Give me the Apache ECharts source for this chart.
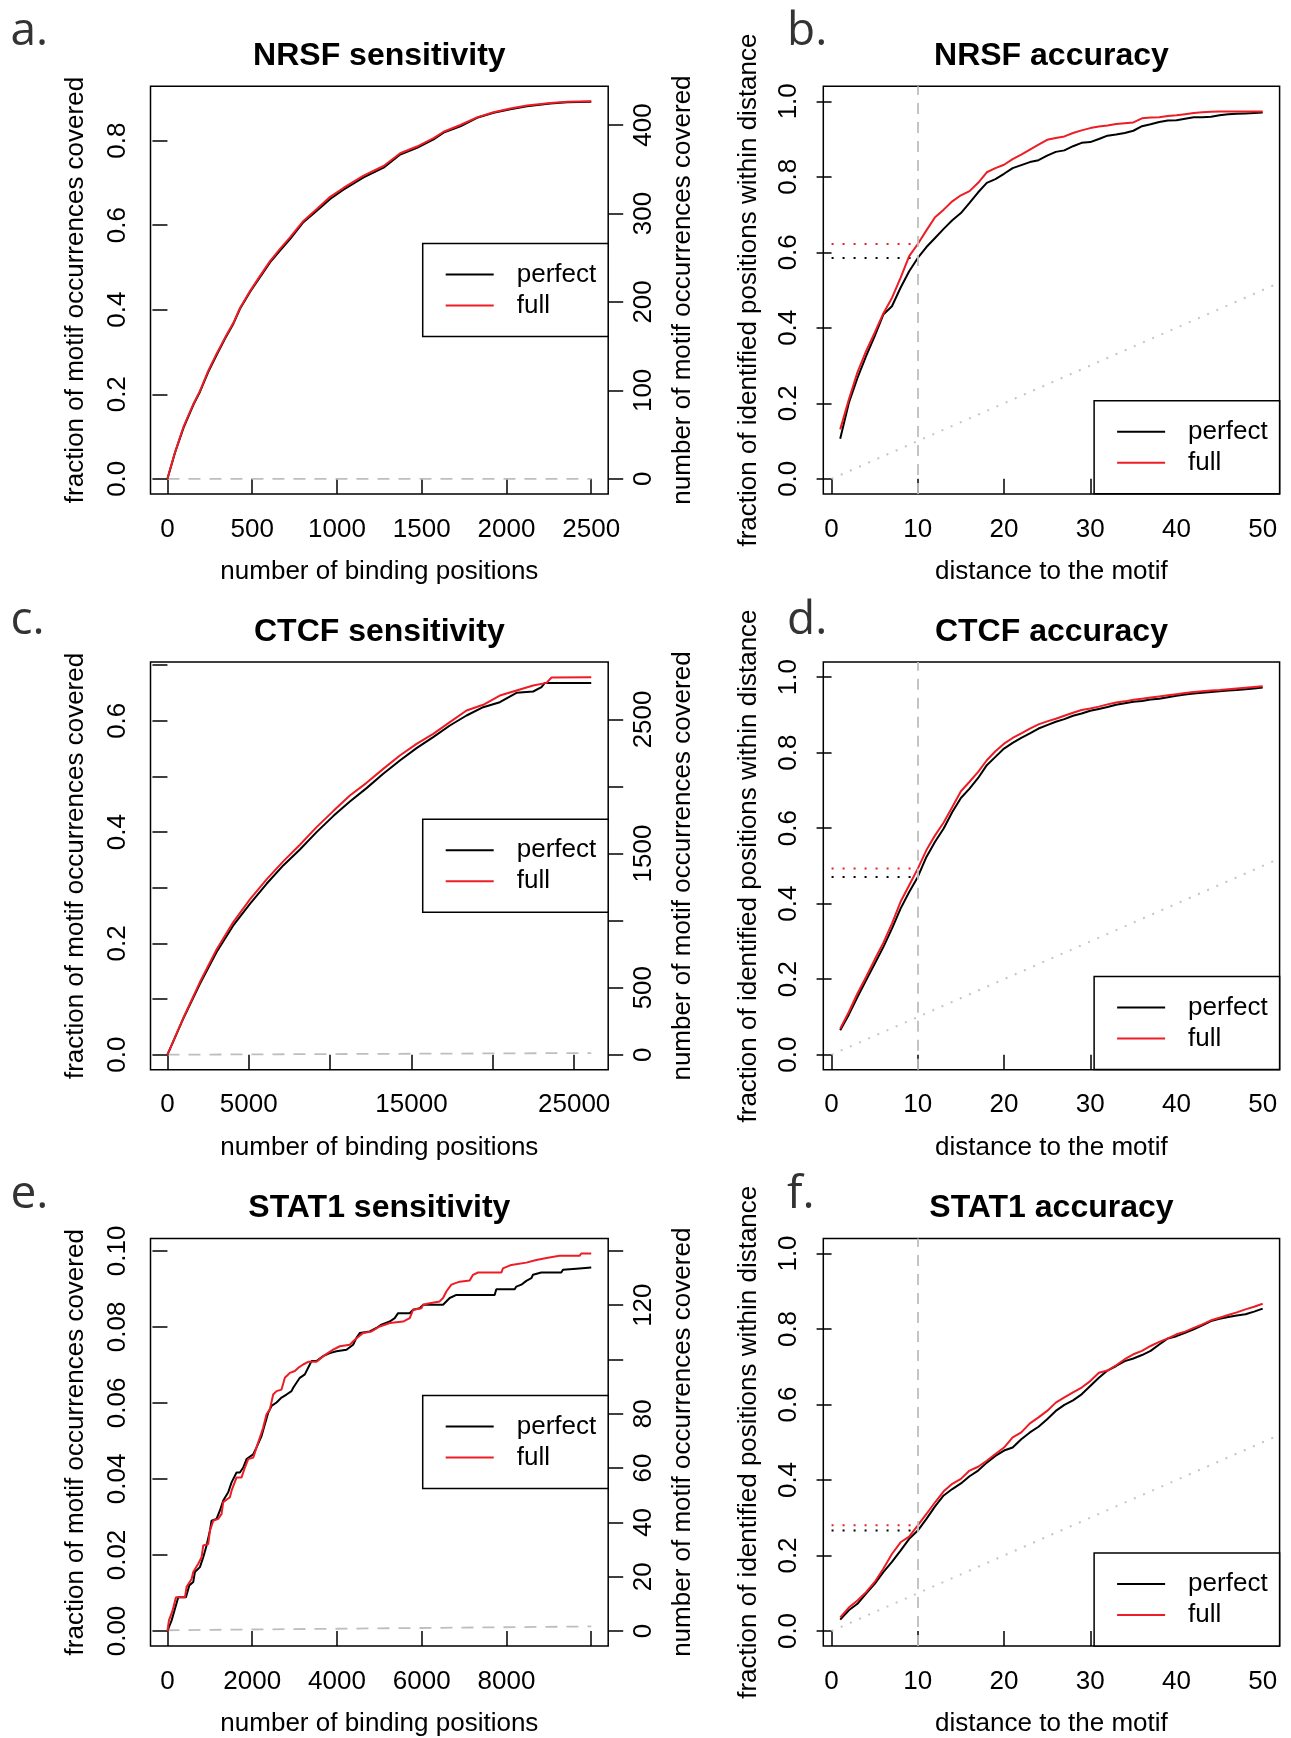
<!DOCTYPE html>
<html>
<head>
<meta charset="utf-8">
<title>Motif sensitivity and accuracy</title>
<script src="https://cdn.jsdelivr.net/npm/echarts@6.0.0/dist/echarts.min.js"></script>
<style>
  html, body { margin: 0; padding: 0; background: #fff; }
  #main { width: 1291px; height: 1738px; }
</style>
</head>
<body>
<div id="main"></div>
<script>
// ---------- data ----------
var nrsfPerfect = [[0,0],[44,0.061],[94,0.120],[153,0.175],[192,0.206],[241,0.253],[290,0.293],[340,0.332],[389,0.367],[428,0.402],[487,0.442],[546,0.477],[605,0.512],[664,0.540],[723,0.567],[802,0.607],[881,0.634],[960,0.662],[1038,0.684],[1157,0.713],[1275,0.736],[1373,0.767],[1472,0.783],[1570,0.803],[1629,0.819],[1728,0.834],[1826,0.854],[1924,0.866],[2023,0.874],[2121,0.881],[2259,0.888],[2358,0.891],[2500,0.892]];
var nrsfFull = [[0,0],[44,0.062],[94,0.122],[153,0.177],[192,0.208],[241,0.256],[290,0.296],[340,0.334],[389,0.369],[428,0.404],[487,0.444],[546,0.480],[605,0.515],[664,0.544],[723,0.571],[802,0.610],[881,0.638],[960,0.667],[1038,0.688],[1157,0.717],[1275,0.740],[1373,0.770],[1472,0.786],[1570,0.806],[1629,0.821],[1728,0.837],[1826,0.855],[1924,0.867],[2023,0.876],[2121,0.883],[2259,0.889],[2358,0.892],[2500,0.893]];
var nrsfBaseline = [[0,0],[2500,0]];

var ctcfPerfect = [[0,0],[973,0.0647],[1997,0.1275],[3021,0.1844],[4046,0.2323],[5070,0.2712],[6094,0.3071],[7118,0.3401],[8142,0.3688],[9166,0.3999],[10190,0.4287],[11215,0.4550],[12239,0.4790],[13263,0.5047],[14287,0.5286],[15311,0.5508],[16335,0.5706],[17360,0.5915],[18384,0.6095],[19408,0.6244],[20432,0.6334],[21456,0.6502],[22480,0.6526],[22992,0.6604],[23197,0.6681],[26050,0.6681]];
var ctcfFull = [[0,0],[973,0.0659],[1997,0.1305],[3021,0.1892],[4046,0.2383],[5070,0.2790],[6094,0.3149],[7118,0.3473],[8142,0.3772],[9166,0.4089],[10190,0.4377],[11215,0.4658],[12239,0.4885],[13263,0.5136],[14287,0.5376],[15311,0.5586],[16335,0.5765],[17360,0.5975],[18384,0.6185],[19408,0.6287],[20432,0.6454],[21456,0.6544],[22480,0.6634],[23300,0.6681],[23607,0.6777],[26050,0.6783]];
var ctcfBaseline = [[0,0],[26050,0.003]];

var stat1Perfect = [[0,0],[98,0.0028],[255,0.0089],[436,0.0089],[515,0.0120],[609,0.0129],[648,0.0155],[766,0.0168],[845,0.0194],[923,0.0225],[1002,0.0264],[1041,0.0290],[1159,0.0295],[1238,0.0317],[1316,0.0343],[1434,0.0365],[1513,0.0391],[1631,0.0417],[1709,0.0417],[1788,0.0430],[1866,0.0452],[2024,0.0465],[2102,0.0483],[2220,0.0513],[2299,0.0544],[2377,0.0574],[2456,0.0592],[2574,0.0601],[2692,0.0614],[2809,0.0622],[2927,0.0631],[2967,0.0640],[3045,0.0653],[3124,0.0666],[3242,0.0675],[3359,0.0701],[3399,0.0710],[3517,0.0710],[3674,0.0723],[3831,0.0731],[3988,0.0736],[4224,0.0740],[4381,0.0753],[4460,0.0771],[4538,0.0784],[4774,0.0788],[4931,0.0797],[5049,0.0806],[5245,0.0814],[5363,0.0823],[5442,0.0836],[5717,0.0836],[5796,0.0845],[5953,0.0849],[6031,0.0858],[6503,0.0858],[6660,0.0876],[6817,0.0884],[7721,0.0884],[7760,0.0899],[8193,0.0899],[8232,0.0906],[8350,0.0911],[8468,0.0921],[8586,0.0928],[8625,0.0937],[8821,0.0943],[9293,0.0943],[9332,0.0950],[9646,0.0953],[9686,0.0956],[10000,0.0956]];
var stat1Full = [[0,0],[35,0.0028],[122,0.0054],[200,0.0089],[413,0.0089],[452,0.0116],[570,0.0137],[609,0.0155],[727,0.0177],[805,0.0194],[845,0.0225],[963,0.0229],[1002,0.0264],[1081,0.0290],[1198,0.0295],[1277,0.0308],[1316,0.0339],[1473,0.0352],[1513,0.0369],[1631,0.0404],[1749,0.0404],[1827,0.0430],[1906,0.0452],[2024,0.0456],[2102,0.0483],[2181,0.0509],[2259,0.0535],[2338,0.0570],[2417,0.0583],[2495,0.0622],[2574,0.0631],[2692,0.0635],[2770,0.0666],[2888,0.0679],[3006,0.0684],[3084,0.0692],[3202,0.0701],[3320,0.0708],[3517,0.0708],[3674,0.0723],[3910,0.0740],[4067,0.0749],[4303,0.0753],[4420,0.0766],[4617,0.0784],[4813,0.0788],[5009,0.0801],[5245,0.0810],[5560,0.0814],[5717,0.0823],[5796,0.0845],[5992,0.0849],[6031,0.0858],[6188,0.0862],[6424,0.0867],[6503,0.0876],[6581,0.0893],[6699,0.0911],[6896,0.0919],[7132,0.0922],[7210,0.0937],[7328,0.0943],[7878,0.0943],[7917,0.0954],[8114,0.0963],[8468,0.0969],[8703,0.0976],[8978,0.0982],[9253,0.0987],[9724,0.0987],[9764,0.0993],[10000,0.0993]];
var stat1Baseline = [[0,0.0002],[10000,0.0012]];

// total motif occurrences (right axis = fraction * total)
var nrsfMotifs = 478, ctcfMotifs = 4150, stat1Motifs = 1400;

var distance = [1,2,3,4,5,6,7,8,9,10,11,12,13,14,15,16,17,18,19,20,21,22,23,24,25,26,27,28,29,30,31,32,33,34,35,36,37,38,39,40,41,42,43,44,45,46,47,48,49,50];
var nrsfAccPerfect = [0.106,0.201,0.267,0.325,0.378,0.435,0.457,0.506,0.550,0.585,0.614,0.638,0.662,0.685,0.704,0.731,0.759,0.784,0.794,0.808,0.823,0.831,0.839,0.844,0.856,0.866,0.870,0.881,0.890,0.892,0.900,0.909,0.912,0.916,0.922,0.934,0.939,0.945,0.949,0.950,0.954,0.958,0.958,0.959,0.963,0.966,0.967,0.968,0.969,0.970];
var nrsfAccFull = [0.131,0.210,0.282,0.338,0.387,0.438,0.479,0.532,0.590,0.622,0.658,0.693,0.713,0.735,0.751,0.762,0.784,0.812,0.823,0.832,0.847,0.859,0.872,0.885,0.898,0.903,0.907,0.916,0.923,0.929,0.933,0.936,0.940,0.942,0.944,0.955,0.957,0.958,0.961,0.963,0.966,0.969,0.971,0.972,0.973,0.973,0.973,0.973,0.973,0.973];
var ctcfAccPerfect = [0.0645,0.106,0.153,0.197,0.241,0.285,0.334,0.387,0.431,0.471,0.524,0.564,0.599,0.643,0.680,0.705,0.733,0.767,0.789,0.811,0.826,0.839,0.851,0.864,0.873,0.882,0.889,0.898,0.904,0.911,0.916,0.921,0.927,0.931,0.935,0.937,0.941,0.943,0.947,0.951,0.954,0.957,0.959,0.961,0.963,0.965,0.966,0.968,0.970,0.973];
var ctcfAccFull = [0.069,0.113,0.162,0.206,0.252,0.296,0.347,0.405,0.449,0.493,0.542,0.581,0.615,0.656,0.698,0.723,0.749,0.780,0.804,0.824,0.839,0.851,0.864,0.875,0.883,0.890,0.898,0.906,0.913,0.917,0.922,0.928,0.933,0.936,0.940,0.943,0.946,0.949,0.952,0.955,0.958,0.961,0.963,0.965,0.966,0.968,0.970,0.972,0.974,0.976];
var stat1AccPerfect = [0.030,0.055,0.072,0.099,0.125,0.156,0.183,0.213,0.244,0.266,0.297,0.330,0.359,0.376,0.391,0.410,0.425,0.446,0.464,0.478,0.486,0.508,0.526,0.541,0.561,0.583,0.599,0.611,0.627,0.649,0.671,0.690,0.702,0.715,0.722,0.731,0.742,0.759,0.775,0.781,0.790,0.799,0.810,0.821,0.827,0.832,0.836,0.839,0.846,0.854];
var stat1AccFull = [0.036,0.062,0.081,0.103,0.130,0.165,0.204,0.235,0.250,0.280,0.310,0.341,0.370,0.390,0.403,0.425,0.435,0.451,0.469,0.486,0.513,0.526,0.550,0.566,0.583,0.605,0.619,0.632,0.645,0.662,0.684,0.690,0.704,0.720,0.733,0.742,0.755,0.766,0.775,0.786,0.793,0.803,0.812,0.823,0.830,0.837,0.844,0.852,0.859,0.867];
var cutoff = 10;
var randomLine = [[0,0],[52,0.52]];

// tick positions and labels
var nrsfXTicks = [0,500,1000,1500,2000,2500];
var nrsfYTicks = [0,0.2,0.4,0.6,0.8];
var nrsfCountTicks = [0,100,200,300,400];
var ctcfXTicks = [0,5000,10000,15000,20000,25000], ctcfXLabels = [0,5000,15000,25000];
var ctcfYTicks = [0,0.1,0.2,0.3,0.4,0.5,0.6,0.7], ctcfYLabels = [0,0.2,0.4,0.6];
var ctcfCountTicks = [0,500,1000,1500,2000,2500], ctcfCountLabels = [0,500,1500,2500];
var stat1XTicks = [0,2000,4000,6000,8000,10000], stat1XLabels = [0,2000,4000,6000,8000];
var stat1YTicks = [0,0.02,0.04,0.06,0.08,0.10];
var stat1CountTicks = [0,20,40,60,80,100,120,140], stat1CountLabels = [0,20,40,60,80,120];
var accXTicks = [0,10,20,30,40,50];
var accYTicks = [0,0.2,0.4,0.6,0.8,1.0];

// ---------- layout ----------
var FONT = '"Liberation Sans", Arial, Helvetica, sans-serif';
var colLeft = [150.5, 823.3], colWidth = [457.7, 456.3];
var rowTop = [86.2, 662.1, 1238.4], rowHeight = 407.7;
var letterBase = [42.5, 631.8, 1206.2], titleMid = [56.4, 631.8, 1208.1];
var BLACK = '#000000', RED = '#ee1c24', GRAY = '#bebebe';

var grids = [], xAxes = [], yAxes = [], seriesList = [], legends = [], graphics = [];

var padRange = function (lo, hi) {
    var d = (hi - lo) * 0.04;
    return [lo - d, hi + d];
};
var fixed = function (n) {
    return function (v) { return Number(v).toFixed(n); };
};
var maxOf = function (list, k) {
    var m = -Infinity;
    list.forEach(function (p) { m = Math.max(m, p[k]); });
    return m;
};

var valueAxis = function (o) {
    return {
        type: 'value', gridIndex: o.grid, position: o.position,
        min: o.range[0], max: o.range[1],
        name: o.name, nameLocation: 'middle', nameGap: o.nameGap, nameRotate: o.nameRotate || 0,
        nameTextStyle: { fontFamily: FONT, fontSize: 26, color: '#000', lineHeight: 26 },
        axisLine: { show: false },
        splitLine: { show: false },
        axisTick: { show: true, length: 15, lineStyle: { color: '#000', width: 1.5 }, customValues: o.ticks },
        axisLabel: {
            show: true, customValues: o.labels || o.ticks, rotate: o.rotate || 0, margin: o.margin,
            fontFamily: FONT, fontSize: 26, color: '#000', lineHeight: 26, formatter: o.fmt
        }
    };
};

var line = function (name, data, color, gi, yi, style, z) {
    return {
        type: 'line', name: name, data: data, xAxisIndex: gi, yAxisIndex: yi,
        symbol: 'none', showSymbol: false, silent: true, z: z || 3,
        color: color, itemStyle: { color: color },
        lineStyle: Object.assign({ color: color, width: 2 }, style || {})
    };
};

var addText = function (text, x, y, font, align, fill) {
    graphics.push({
        type: 'text', x: x, y: y, silent: true,
        style: {
            text: text, font: font, fill: fill || '#000',
            align: align, verticalAlign: 'middle', textAlign: align, textVerticalAlign: 'middle'
        }
    });
};

var addLegend = function (col, top) {
    legends.push({
        show: true, selectedMode: false, orient: 'vertical',
        data: ['perfect', 'full'],
        right: 1291 - (colLeft[col] + colWidth[col]), top: top,
        icon: 'rect', itemWidth: 48, itemHeight: 2, itemGap: 5,
        padding: [18, 12, 18, 23],
        borderColor: '#000', borderWidth: 1.5, borderRadius: 0, backgroundColor: '#fff',
        textStyle: { fontFamily: FONT, fontSize: 26, color: '#000', lineHeight: 26, padding: [0, 0, 0, 18] },
        z: 10
    });
};

var panels = [
    { kind: 'sens', col: 0, row: 0, letter: 'a.', title: 'NRSF sensitivity', perfect: nrsfPerfect, full: nrsfFull, baseline: nrsfBaseline,
      xTicks: nrsfXTicks, yTicks: nrsfYTicks, yDigits: 1, countTicks: nrsfCountTicks, total: nrsfMotifs },
    { kind: 'acc', col: 1, row: 0, letter: 'b.', title: 'NRSF accuracy', perfect: nrsfAccPerfect, full: nrsfAccFull },
    { kind: 'sens', col: 0, row: 1, letter: 'c.', title: 'CTCF sensitivity', perfect: ctcfPerfect, full: ctcfFull, baseline: ctcfBaseline,
      xTicks: ctcfXTicks, xLabels: ctcfXLabels, yTicks: ctcfYTicks, yLabels: ctcfYLabels, yDigits: 1,
      countTicks: ctcfCountTicks, countLabels: ctcfCountLabels, total: ctcfMotifs },
    { kind: 'acc', col: 1, row: 1, letter: 'd.', title: 'CTCF accuracy', perfect: ctcfAccPerfect, full: ctcfAccFull },
    { kind: 'sens', col: 0, row: 2, letter: 'e.', title: 'STAT1 sensitivity', perfect: stat1Perfect, full: stat1Full, baseline: stat1Baseline,
      xTicks: stat1XTicks, xLabels: stat1XLabels, yTicks: stat1YTicks, yDigits: 2,
      countTicks: stat1CountTicks, countLabels: stat1CountLabels, total: stat1Motifs },
    { kind: 'acc', col: 1, row: 2, letter: 'f.', title: 'STAT1 accuracy', perfect: stat1AccPerfect, full: stat1AccFull }
];

panels.forEach(function (p, gi) {
    var left = colLeft[p.col], width = colWidth[p.col], top = rowTop[p.row];
    grids.push({
        left: left, top: top, width: width, height: rowHeight,
        show: true, borderColor: '#000', borderWidth: 1.5, backgroundColor: 'transparent'
    });

    addText(p.title, left + width / 2, titleMid[p.row], 'bold 32px ' + FONT, 'center');
    addText(p.letter, p.col === 0 ? 10.4 : 787, letterBase[p.row] - 11, '46px "Open Sans", "Noto Sans", sans-serif', 'left', '#333333');

    var yi = yAxes.length;
    if (p.kind === 'sens') {
        var xr = padRange(0, Math.max(maxOf(p.perfect, 0), maxOf(p.full, 0)));
        var yr = padRange(0, Math.max(maxOf(p.perfect, 1), maxOf(p.full, 1)));
        xAxes.push(valueAxis({ grid: gi, position: 'bottom', range: xr, ticks: p.xTicks, labels: p.xLabels,
            fmt: fixed(0), margin: 22.5, name: 'number of binding positions', nameGap: 64.7 }));
        yAxes.push(valueAxis({ grid: gi, position: 'left', range: yr, ticks: p.yTicks, labels: p.yLabels,
            fmt: fixed(p.yDigits), rotate: 90, margin: 20, name: 'fraction of motif occurrences covered', nameGap: 61.5, nameRotate: 90 }));
        yAxes.push(valueAxis({ grid: gi, position: 'right', range: [yr[0] * p.total, yr[1] * p.total],
            ticks: p.countTicks, labels: p.countLabels, fmt: fixed(0), rotate: 90, margin: 22.4,
            name: 'number of motif occurrences covered', nameGap: 61.5, nameRotate: 90 }));

        seriesList.push(line('random', p.baseline, GRAY, gi, yi, { type: [12, 9], width: 1.8 }, 1));
        seriesList.push(line('perfect', p.perfect, BLACK, gi, yi));
        seriesList.push(line('full', p.full, RED, gi, yi, null, 4));
        addLegend(p.col, top + 157.2);
    } else {
        var ax = padRange(1, 50);
        xAxes.push(valueAxis({ grid: gi, position: 'bottom', range: ax, ticks: accXTicks,
            fmt: fixed(0), margin: 22.5, name: 'distance to the motif', nameGap: 64.7 }));
        yAxes.push(valueAxis({ grid: gi, position: 'left', range: padRange(0, 1), ticks: accYTicks,
            fmt: fixed(1), rotate: 90, margin: 21, name: 'fraction of identified positions within distance', nameGap: 61.5, nameRotate: 90 }));

        var perfectPts = distance.map(function (d, i) { return [d, p.perfect[i]]; });
        var fullPts = distance.map(function (d, i) { return [d, p.full[i]]; });
        var k = distance.indexOf(cutoff);

        var diag = line('random', randomLine, '#c4c4c4', gi, yi, { type: [2, 8], width: 2 }, 1);
        diag.markLine = {
            silent: true, symbol: ['none', 'none'], animation: false,
            label: { show: false },
            lineStyle: { color: GRAY, type: [11, 8], width: 1.8 },
            data: [{ xAxis: cutoff }]
        };
        seriesList.push(diag);
        seriesList.push(line('perfect', perfectPts, BLACK, gi, yi));
        seriesList.push(line('full', fullPts, RED, gi, yi, null, 4));
        seriesList.push(line('perfect-cut', [[0, p.perfect[k]], [cutoff, p.perfect[k]]], BLACK, gi, yi, { type: [2, 9], width: 2 }, 2));
        seriesList.push(line('full-cut', [[0, p.full[k]], [cutoff, p.full[k]]], RED, gi, yi, { type: [2, 9], width: 2 }, 2));
        addLegend(p.col, top + rowHeight - 93.2);
    }
});

var chart = echarts.init(document.getElementById('main'), null, { renderer: 'canvas' });
chart.setOption({
    backgroundColor: '#ffffff',
    animation: false,
    grid: grids,
    xAxis: xAxes,
    yAxis: yAxes,
    legend: legends,
    series: seriesList,
    graphic: graphics
});
</script>
</body>
</html>
